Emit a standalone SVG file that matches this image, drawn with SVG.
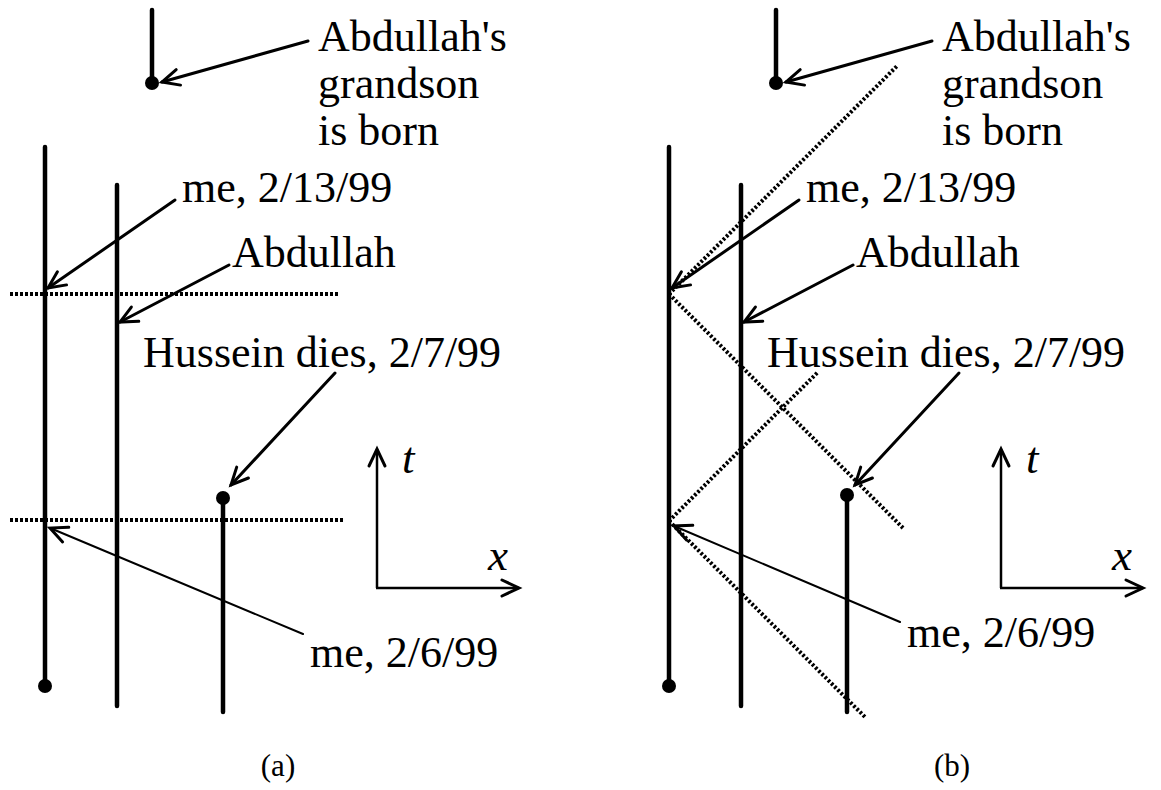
<svg xmlns="http://www.w3.org/2000/svg" width="1161" height="790" viewBox="0 0 1161 790">
<defs>
<marker id="ah" markerUnits="userSpaceOnUse" markerWidth="40" markerHeight="40" refX="0" refY="0" orient="auto" overflow="visible">
<path d="M -17,-8 L 0,0 L -17,8" fill="none" stroke="#000" stroke-width="3" stroke-linecap="round" stroke-linejoin="miter"/>
</marker>
<marker id="ahs" markerUnits="userSpaceOnUse" markerWidth="40" markerHeight="40" refX="0" refY="0" orient="auto" overflow="visible">
<path d="M -17,-8 L 0,0 L -17,8" fill="none" stroke="#000" stroke-width="3" stroke-linecap="round"/>
</marker>
</defs>
<style>
.life{stroke:#000;stroke-width:4.5;stroke-linecap:round;fill:none}
.dot{fill:#000}
.sim{stroke:#000;stroke-width:4;stroke-dasharray:3 2;fill:none}
.cone{stroke:#000;stroke-width:4;stroke-dasharray:2.5 2;fill:none}
.arr{stroke:#000;stroke-width:3;fill:none;stroke-linecap:round;marker-end:url(#ah)}
.thin{stroke:#000;stroke-width:2;fill:none;stroke-linecap:round;marker-end:url(#ah)}
.axis{stroke:#000;stroke-width:2.5;fill:none;marker-end:url(#ahs)}
.lbl{font-family:"Liberation Serif","Times New Roman",serif;font-size:44px;fill:#000}
.ax{font-family:"Liberation Serif","Times New Roman",serif;font-size:45px;font-style:italic;fill:#000}
.cap{font-family:"Liberation Serif","Times New Roman",serif;font-size:31px;fill:#000;text-anchor:middle}
</style>

<!-- Panel (a) -->
<g id="a-simultaneity">
<line class="sim" x1="10" y1="294" x2="338" y2="294"/>
<line class="sim" x1="10" y1="520" x2="343" y2="520"/>
</g>
<g id="a-me"><line class="life" x1="45" y1="147" x2="45" y2="686"/><circle class="dot" cx="45" cy="686" r="7"/></g>
<g id="a-abdullah"><line class="life" x1="117" y1="185" x2="117" y2="706"/></g>
<g id="a-hussein"><line class="life" x1="223" y1="498" x2="223" y2="712"/><circle class="dot" cx="223" cy="498" r="7"/></g>
<g id="a-grandson"><line class="life" x1="152" y1="10" x2="152" y2="83"/><circle class="dot" cx="152" cy="83" r="7"/></g>
<g id="a-axes">
<line class="axis" x1="377" y1="588" x2="377" y2="449"/>
<line class="axis" x1="376" y1="588" x2="519" y2="588"/>
<text class="ax" x="402" y="473">t</text>
<text class="ax" x="488" y="570">x</text>
</g>
<g id="a-labels">
<text class="lbl" x="318" y="51">Abdullah's<tspan x="318" dy="47">grandson</tspan><tspan x="318" dy="47">is born</tspan></text>
<text class="lbl" x="182" y="202">me, 2/13/99</text>
<text class="lbl" x="232" y="267">Abdullah</text>
<text class="lbl" x="143" y="367">Hussein dies, 2/7/99</text>
<text class="lbl" x="310" y="667">me, 2/6/99</text>
<text class="cap" x="278" y="776">(a)</text>
</g>
<g id="a-connectors">
<line class="arr" x1="308" y1="41" x2="162" y2="82"/>
<line class="arr" x1="175" y1="200" x2="48" y2="288"/>
<line class="arr" x1="229" y1="265" x2="120" y2="322"/>
<line class="arr" x1="335" y1="373" x2="231" y2="485"/>
<line class="thin" x1="303" y1="634" x2="50" y2="528"/>
</g>

<!-- Panel (b) -->
<g id="b-lightcones">
<line class="cone" x1="669" y1="294" x2="898" y2="65"/>
<line class="cone" x1="669" y1="294" x2="903" y2="528"/>
<line class="cone" x1="669" y1="521" x2="818" y2="372"/>
<line class="cone" x1="669" y1="521" x2="865" y2="717"/>
</g>
<g id="b-me"><line class="life" x1="669" y1="147" x2="669" y2="686"/><circle class="dot" cx="669" cy="686" r="7"/></g>
<g id="b-abdullah"><line class="life" x1="741" y1="185" x2="741" y2="706"/></g>
<g id="b-hussein"><line class="life" x1="847" y1="498" x2="847" y2="712"/><circle class="dot" cx="847" cy="495" r="7"/></g>
<g id="b-grandson"><line class="life" x1="776" y1="10" x2="776" y2="83"/><circle class="dot" cx="776" cy="83" r="7"/></g>
<g id="b-axes">
<line class="axis" x1="1001" y1="588" x2="1001" y2="449"/>
<line class="axis" x1="1000" y1="588" x2="1143" y2="588"/>
<text class="ax" x="1026" y="473">t</text>
<text class="ax" x="1112" y="570">x</text>
</g>
<g id="b-labels">
<text class="lbl" x="942" y="51">Abdullah's<tspan x="942" dy="47">grandson</tspan><tspan x="942" dy="47">is born</tspan></text>
<text class="lbl" x="806" y="202">me, 2/13/99</text>
<text class="lbl" x="856" y="267">Abdullah</text>
<text class="lbl" x="767" y="367">Hussein dies, 2/7/99</text>
<text class="lbl" x="907" y="647">me, 2/6/99</text>
<text class="cap" x="952" y="776">(b)</text>
</g>
<g id="b-connectors">
<line class="arr" x1="932" y1="41" x2="786" y2="82"/>
<line class="arr" x1="799" y1="200" x2="672" y2="288"/>
<line class="arr" x1="853" y1="265" x2="744" y2="322"/>
<line class="arr" x1="959" y1="373" x2="855" y2="485"/>
<line class="thin" x1="900" y1="622" x2="674" y2="526"/>
</g>
</svg>
